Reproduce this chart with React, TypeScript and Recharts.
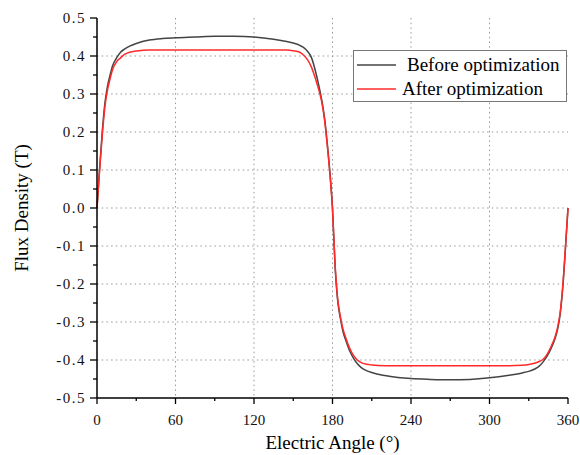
import React from 'react';
import { LineChart, Line, XAxis, YAxis, CartesianGrid, Legend } from 'recharts';

// electric angle samples (deg), denser around the transitions
const angles = [
  0, 2, 4, 6, 8, 10, 12, 15, 18, 21, 25, 30, 40, 50, 60, 75, 90, 105, 120, 135,
  145, 150, 155, 158, 161, 164, 167, 170, 172, 174, 176, 178, 180, 182, 184, 186,
  188, 190, 193, 196, 199, 202, 206, 210, 220, 230, 240, 255, 270, 285, 300, 315,
  325, 330, 335, 338, 341, 344, 347, 350, 352, 354, 356, 358, 360,
];

const before = [
  0, 0.105, 0.2, 0.275, 0.32, 0.35, 0.375, 0.395, 0.41, 0.418, 0.426, 0.433, 0.442, 0.446, 0.448, 0.45, 0.452, 0.452, 0.45, 0.444,
  0.438, 0.434, 0.428, 0.422, 0.412, 0.395, 0.36, 0.315, 0.28, 0.235, 0.17, 0.095, 0, -0.155, -0.245, -0.29,
  -0.325, -0.347, -0.375, -0.395, -0.41, -0.42, -0.428, -0.433, -0.441, -0.446, -0.449, -0.451, -0.452, -0.451, -0.447, -0.44,
  -0.434, -0.43, -0.423, -0.416, -0.405, -0.39, -0.37, -0.345, -0.32, -0.28, -0.21, -0.11, 0,
];

const after = [
  0, 0.1, 0.19, 0.265, 0.31, 0.34, 0.365, 0.385, 0.395, 0.404, 0.41, 0.413, 0.416, 0.416, 0.416, 0.416, 0.416, 0.416, 0.416, 0.416,
  0.416, 0.414, 0.41, 0.402, 0.39, 0.37, 0.34, 0.305, 0.275, 0.23, 0.165, 0.09, -0.005, -0.15, -0.24, -0.285,
  -0.318, -0.34, -0.368, -0.388, -0.4, -0.407, -0.411, -0.413, -0.415, -0.415, -0.415, -0.415, -0.415, -0.415, -0.415, -0.415,
  -0.414, -0.412, -0.408, -0.404, -0.398, -0.385, -0.365, -0.34, -0.315, -0.275, -0.205, -0.105, 0,
];

const xTicks = [0, 30, 60, 90, 120, 150, 180, 210, 240, 270, 300, 330, 360];
const xGrid = [60, 120, 180, 240, 300];
const yTicks = [
  -0.5, -0.45, -0.4, -0.35, -0.3, -0.25, -0.2, -0.15, -0.1, -0.05, 0,
  0.05, 0.1, 0.15, 0.2, 0.25, 0.3, 0.35, 0.4, 0.45, 0.5,
];
const yGrid = [-0.4, -0.3, -0.2, -0.1, 0, 0.1, 0.2, 0.3, 0.4];

const data = angles.map((a, i) => ({ angle: a, before: before[i], after: after[i] }));

const FONT = '"Liberation Serif", "Times New Roman", serif';

const XTick = (props: any) => {
  const { x, y, payload } = props;
  const major = payload.value % 60 === 0;
  return (
    <g>
      <line x1={x} y1={y} x2={x} y2={y + (major ? 6 : 3)} stroke="#000" strokeWidth={1.3} />
      {major && (
        <text x={x} y={y + 27} textAnchor="middle" fontSize={15} fontFamily={FONT} fill="#111">
          {payload.value}
        </text>
      )}
    </g>
  );
};

const YTick = (props: any) => {
  const { x, y, payload } = props;
  const major = Math.round(payload.value * 100) % 10 === 0;
  return (
    <g>
      <line x1={x - (major ? 7 : 4)} y1={y} x2={x} y2={y} stroke="#000" strokeWidth={1.3} />
      {major && (
        <text x={x - 11} y={y + 5} textAnchor="end" fontSize={15} fontFamily={FONT} fill="#111" letterSpacing={1.5}>
          {payload.value.toFixed(1)}
        </text>
      )}
    </g>
  );
};

const LegendBox = () => (
  <div
    style={{
      width: 212,
      height: 50,
      border: '1px solid #777',
      background: '#fff',
      fontFamily: FONT,
      fontSize: 19,
      color: '#000',
      position: 'relative',
    }}
  >
    <svg width={212} height={50} style={{ position: 'absolute', left: 0, top: 0 }}>
      <line x1={3} y1={14} x2={42} y2={14} stroke="#444" strokeWidth={1.5} />
      <line x1={3} y1={38} x2={42} y2={38} stroke="#ff2a2a" strokeWidth={1.5} />
      <text x={53} y={20} fontFamily={FONT} fontSize={19} fill="#000">Before optimization</text>
      <text x={48} y={44} fontFamily={FONT} fontSize={19} fill="#000">After optimization</text>
    </svg>
  </div>
);

export default function App() {
  return (
    <div style={{ position: 'absolute', left: 0, top: 0, width: 580, height: 455, background: '#fff' }}>
      <LineChart width={580} height={455} data={data} margin={{ top: 18, right: 12, bottom: 0, left: 0 }}>
        <CartesianGrid
          horizontalValues={yGrid}
          verticalValues={xGrid}
          stroke="#999"
          strokeDasharray="1.5 3.2"
        />
        <XAxis
          dataKey="angle"
          type="number"
          domain={[0, 360]}
          ticks={xTicks}
          interval={0}
          height={57}
          tickSize={0}
          tickMargin={0}
          tickLine={false}
          axisLine={{ stroke: '#000', strokeWidth: 1.5 }}
          tick={<XTick />}
          label={{
            content: (p: any) => {
              const vb = p.viewBox;
              return (
                <text x={vb.x + vb.width / 2} y={vb.y + 51} textAnchor="middle" fontSize={19} fontFamily={FONT} fill="#000">
                  Electric Angle (°)
                </text>
              );
            },
          }}
        />
        <YAxis
          type="number"
          domain={[-0.5, 0.5]}
          ticks={yTicks}
          interval={0}
          width={97}
          tickSize={0}
          tickMargin={0}
          tickLine={false}
          axisLine={{ stroke: '#000', strokeWidth: 1.5 }}
          tick={<YTick />}
          label={{
            content: (p: any) => {
              const vb = p.viewBox;
              const cx = vb.x + 28;
              const cy = vb.y + vb.height / 2;
              return (
                <text x={cx} y={cy} textAnchor="middle" fontSize={19} fontFamily={FONT} fill="#000" transform={`rotate(-90 ${cx} ${cy})`}>
                  Flux Density (T)
                </text>
              );
            },
          }}
        />
        <Legend
          layout="vertical"
          align="center"
          verticalAlign="middle"
          content={<LegendBox />}
          wrapperStyle={{ top: 50, left: 353, width: 214, height: 52 }}
        />
        <Line
          type="monotone"
          dataKey="before"
          name="Before optimization"
          stroke="#444"
          strokeWidth={1.5}
          dot={false}
          isAnimationActive={false}
        />
        <Line
          type="monotone"
          dataKey="after"
          name="After optimization"
          stroke="#ff2a2a"
          strokeWidth={1.5}
          dot={false}
          isAnimationActive={false}
        />
      </LineChart>
    </div>
  );
}
